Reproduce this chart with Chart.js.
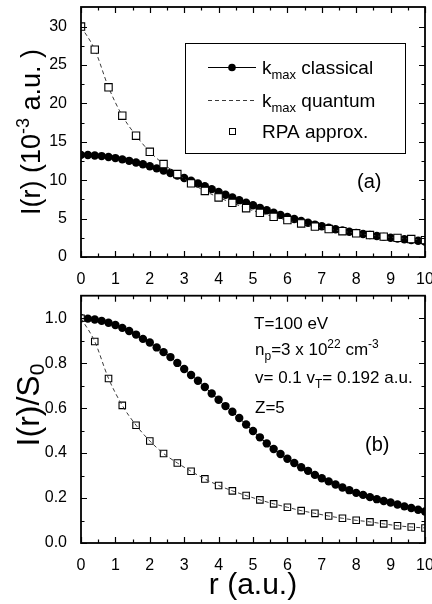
<!DOCTYPE html>
<html>
<head>
<meta charset="utf-8">
<script src="https://cdn.jsdelivr.net/npm/chart.js@4/dist/chart.umd.min.js"></script>
<style>
    html, body { margin: 0; padding: 0; background: #fff; }
    canvas { position: absolute; left: 0; }
    #chartA { top: 0; }
    #chartB { top: 290px; }
</style>
</head>
<body>
<canvas id="chartA" width="432" height="290"></canvas>
<canvas id="chartB" width="432" height="314"></canvas>
<script>
/**
 * Induced potential profile I(r): k_max classical / quantum and RPA.
 * Panel (a) absolute values, panel (b) normalised to S0.
 */

const FONT = "'Liberation Sans', Arial, Helvetica, sans-serif";

// r grid of the classical curve (a.u.)
const rClassical = [0, 0.2, 0.4, 0.6, 0.8, 1.0, 1.2, 1.4, 1.6, 1.8, 2.0, 2.2, 2.4, 2.6, 2.8, 3.0, 3.2, 3.4, 3.6, 3.8,
    4.0, 4.2, 4.4, 4.6, 4.8, 5.0, 5.2, 5.4, 5.6, 5.8, 6.0, 6.2, 6.4, 6.6, 6.8, 7.0, 7.2, 7.4, 7.6, 7.8,
    8.0, 8.2, 8.4, 8.6, 8.8, 9.0, 9.2, 9.4, 9.6, 9.8, 10.0];

// r grid of the RPA points (a.u.)
const rRpa = [0, 0.4, 0.8, 1.2, 1.6, 2.0, 2.4, 2.8, 3.2, 3.6, 4.0, 4.4, 4.8, 5.2, 5.6, 6.0, 6.4, 6.8, 7.2, 7.6,
    8.0, 8.4, 8.8, 9.2, 9.6, 10.0];

// panel (a): I(r) in 10^-3 a.u.
const classicalTop = [13.30, 13.28, 13.22, 13.14, 13.02, 12.88, 12.71, 12.52, 12.31, 12.07, 11.82, 11.54, 11.25, 10.94,
    10.62, 10.28, 9.93, 9.57, 9.21, 8.84, 8.47, 8.10, 7.74, 7.40, 7.07, 6.74, 6.40, 6.08, 5.77, 5.48, 5.20, 4.94,
    4.69, 4.45, 4.22, 4.01, 3.81, 3.62, 3.45, 3.29, 3.14, 3.00, 2.87, 2.74, 2.62, 2.51, 2.41, 2.31, 2.21, 2.11, 2.02];
const rpaTop = [30.0, 27.0, 22.1, 18.4, 15.8, 13.7, 12.1, 10.8, 9.6, 8.6, 7.75, 7.05, 6.35, 5.76, 5.24, 4.80, 4.37,
    3.96, 3.64, 3.36, 3.08, 2.86, 2.65, 2.49, 2.34, 2.20];

// panel (b): I(r)/S0
const classicalNorm = [1.000, 0.998, 0.994, 0.988, 0.980, 0.970, 0.957, 0.943, 0.927, 0.908, 0.892, 0.870, 0.849,
    0.827, 0.801, 0.774, 0.747, 0.722, 0.694, 0.665, 0.637, 0.609, 0.584, 0.556, 0.527, 0.498, 0.470, 0.443, 0.418,
    0.396, 0.375, 0.356, 0.337, 0.321, 0.303, 0.288, 0.274, 0.260, 0.247, 0.235, 0.223, 0.214, 0.204, 0.195, 0.187,
    0.180, 0.171, 0.163, 0.156, 0.148, 0.140];
const rpaNorm = [1.000, 0.896, 0.732, 0.612, 0.524, 0.454, 0.398, 0.356, 0.319, 0.285, 0.256, 0.232, 0.211, 0.192,
    0.174, 0.159, 0.144, 0.132, 0.120, 0.110, 0.101, 0.094, 0.085, 0.077, 0.071, 0.067];

// tick values
const xTicks = [0, 1, 2, 3, 4, 5, 6, 7, 8, 9, 10];
const yTicksTop = [0, 5, 10, 15, 20, 25, 30];
const yTicksBottom = [0, 0.2, 0.4, 0.6, 0.8, 1.0];

const toPoints = (xs, ys) => xs.map((x, i) => ({ x, y: ys[i] }));

/**
 * Draws a run of text pieces (normal / sub / superscript) starting at x,
 * or centred on x when align is 'center'.
 */
function drawRuns(ctx, runs, x, y, align) {
    let total = 0;
    runs.forEach(r => {
        ctx.font = `${r.size}px ${FONT}`;
        r.w = ctx.measureText(r.t).width;
        total += r.w;
    });
    let cx = align === 'center' ? x - total / 2 : x;
    ctx.textAlign = 'left';
    ctx.textBaseline = 'alphabetic';
    runs.forEach(r => {
        ctx.font = `${r.size}px ${FONT}`;
        ctx.fillText(r.t, cx, y + (r.dy || 0));
        cx += r.w;
    });
}

function drawRotated(ctx, runs, x, y) {
    ctx.save();
    ctx.translate(x, y);
    ctx.rotate(-Math.PI / 2);
    drawRuns(ctx, runs, 0, 0, 'center');
    ctx.restore();
}

const midpoints = arr => arr.slice(1).map((v, i) => (v + arr[i]) / 2);

/**
 * Box frame with inward major/minor ticks on all four sides.
 */
function drawFrame(chart, yMajor) {
    const { ctx, chartArea: a, scales: { x, y } } = chart;
    ctx.save();
    ctx.strokeStyle = '#000';
    ctx.lineWidth = 1.2;
    ctx.beginPath();
    const xt = (vals, len) => vals.forEach(v => {
        const px = Math.round(x.getPixelForValue(v)) + 0.5;
        ctx.moveTo(px, a.bottom); ctx.lineTo(px, a.bottom - len);
        ctx.moveTo(px, a.top); ctx.lineTo(px, a.top + len);
    });
    const yt = (vals, len) => vals.forEach(v => {
        const py = Math.round(y.getPixelForValue(v)) + 0.5;
        ctx.moveTo(a.left, py); ctx.lineTo(a.left + len, py);
        ctx.moveTo(a.right, py); ctx.lineTo(a.right - len, py);
    });
    xt(xTicks, 6);
    xt(midpoints(xTicks), 3.5);
    yt(yMajor, 6);
    yt(midpoints(yMajor), 3.5);
    ctx.stroke();
    ctx.lineWidth = 1.8;
    ctx.strokeRect(a.left, a.top, a.right - a.left, a.bottom - a.top);
    ctx.restore();
}

function scaleOptions(yMax, yTicks, yFormat, xHeight) {
    const tickFont = { family: FONT, size: 16 };
    return {
        x: {
            type: 'linear',
            min: 0,
            max: 10,
            grid: { display: false },
            border: { display: false },
            ticks: { font: tickFont, color: '#000', padding: 5, maxRotation: 0, autoSkip: false, callback: v => String(v) },
            afterBuildTicks: s => { s.ticks = xTicks.map(value => ({ value })); },
            afterFit: s => { s.height = xHeight; s.paddingLeft = 0; s.paddingRight = 0; }
        },
        y: {
            type: 'linear',
            min: 0,
            max: yMax,
            grid: { display: false },
            border: { display: false },
            ticks: { font: tickFont, color: '#000', padding: 6, autoSkip: false, callback: yFormat },
            afterBuildTicks: s => { s.ticks = yTicks.map(value => ({ value })); },
            afterFit: s => { s.width = 81; s.paddingTop = 0; s.paddingBottom = 0; }
        }
    };
}

function baseOptions(layoutPadding, scales, plugins) {
    return {
        responsive: false,
        animation: false,
        events: [],
        layout: { padding: layoutPadding },
        plugins: { legend: { display: false }, tooltip: { enabled: false }, ...plugins },
        scales
    };
}

const classicalStyle = {
    showLine: true,
    borderColor: '#000',
    borderWidth: 1,
    pointStyle: 'circle',
    pointBackgroundColor: '#000',
    pointBorderWidth: 0,
    tension: 0
};

const rpaStyle = {
    showLine: false,
    pointStyle: 'rect',
    pointBackgroundColor: '#fff',
    pointBorderColor: '#000',
    pointBorderWidth: 1.1
};

const quantumStyle = {
    showLine: true,
    borderColor: '#3a3a3a',
    borderWidth: 1,
    borderDash: [4, 3],
    pointRadius: 0,
    cubicInterpolationMode: 'monotone'
};

// ---- panel (a) ----
const panelA = {
    id: 'panelA',
    afterDraw(chart) {
        const { ctx } = chart;
        drawFrame(chart, yTicksTop);
        ctx.save();
        ctx.fillStyle = '#000';

        drawRotated(ctx, [
            { t: 'I(r) (10', size: 27 },
            { t: '-3', size: 18, dy: -11 },
            { t: ' a.u. )', size: 27 }
        ], 40, 132);

        // legend box
        ctx.strokeStyle = '#000';
        ctx.lineWidth = 1;
        ctx.strokeRect(185.5, 43.5, 220, 110);

        ctx.beginPath();
        ctx.moveTo(208, 67.5); ctx.lineTo(256, 67.5);
        ctx.stroke();
        ctx.beginPath();
        ctx.arc(232, 67.5, 3.8, 0, Math.PI * 2);
        ctx.fill();

        ctx.save();
        ctx.strokeStyle = '#3a3a3a';
        ctx.setLineDash([4, 3]);
        ctx.beginPath();
        ctx.moveTo(208, 100.5); ctx.lineTo(256, 100.5);
        ctx.stroke();
        ctx.restore();

        ctx.strokeRect(229.5, 128.5, 6, 6);

        drawRuns(ctx, [{ t: 'k', size: 19 }, { t: 'max', size: 13, dy: 5 }, { t: ' classical', size: 19 }], 262, 74);
        drawRuns(ctx, [{ t: 'k', size: 19 }, { t: 'max', size: 13, dy: 5 }, { t: ' quantum', size: 19 }], 262, 107);
        drawRuns(ctx, [{ t: 'RPA approx.', size: 19 }], 262, 138);

        drawRuns(ctx, [{ t: '(a)', size: 20 }], 357, 188);
        ctx.restore();
    }
};

new Chart(document.getElementById('chartA'), {
    type: 'scatter',
    data: {
        datasets: [
            { ...classicalStyle, data: toPoints(rClassical, classicalTop), pointRadius: 4.2, order: 3 },
            { ...quantumStyle, data: toPoints(rRpa, rpaTop), order: 2 },
            { ...rpaStyle, data: toPoints(rRpa, rpaTop), pointRadius: 5.2, order: 1 }
        ]
    },
    options: baseOptions(
        { top: 7, right: 7, left: 0, bottom: 0 },
        scaleOptions(32.55, yTicksTop, v => String(v), 33)
    ),
    plugins: [panelA]
});

// ---- panel (b) ----
const panelB = {
    id: 'panelB',
    afterDraw(chart) {
        const { ctx } = chart;
        drawFrame(chart, yTicksBottom);
        ctx.save();
        ctx.fillStyle = '#000';

        drawRotated(ctx, [
            { t: 'I(r)/S', size: 32 },
            { t: '0', size: 21, dy: 5 }
        ], 39, 115);

        drawRuns(ctx, [{ t: 'r (a.u.)', size: 30 }], 253, 304, 'center');

        drawRuns(ctx, [{ t: 'T=100 eV', size: 17 }], 254, 39);
        drawRuns(ctx, [
            { t: 'n', size: 17 },
            { t: 'p', size: 12, dy: 5 },
            { t: '=3 x 10', size: 17 },
            { t: '22', size: 12, dy: -7 },
            { t: ' cm', size: 17 },
            { t: '-3', size: 12, dy: -7 }
        ], 255, 65);
        drawRuns(ctx, [
            { t: 'v= 0.1 v', size: 17 },
            { t: 'T', size: 12, dy: 5 },
            { t: '= 0.192 a.u.', size: 17 }
        ], 255, 93);
        drawRuns(ctx, [{ t: 'Z=5', size: 17 }], 255, 123);

        drawRuns(ctx, [{ t: '(b)', size: 20 }], 365, 161);
        ctx.restore();
    }
};

new Chart(document.getElementById('chartB'), {
    type: 'scatter',
    data: {
        datasets: [
            { ...classicalStyle, data: toPoints(rClassical, classicalNorm), pointRadius: 4.2, order: 3 },
            { ...rpaStyle, data: toPoints(rRpa, rpaNorm), pointRadius: 4.6, order: 2 },
            { ...quantumStyle, data: toPoints(rRpa, rpaNorm), order: 1 }
        ]
    },
    options: baseOptions(
        { top: 3, right: 7, left: 0, bottom: 0 },
        scaleOptions(1.1, yTicksBottom, v => v.toFixed(1), 61)
    ),
    plugins: [panelB]
});
</script>
</body>
</html>
